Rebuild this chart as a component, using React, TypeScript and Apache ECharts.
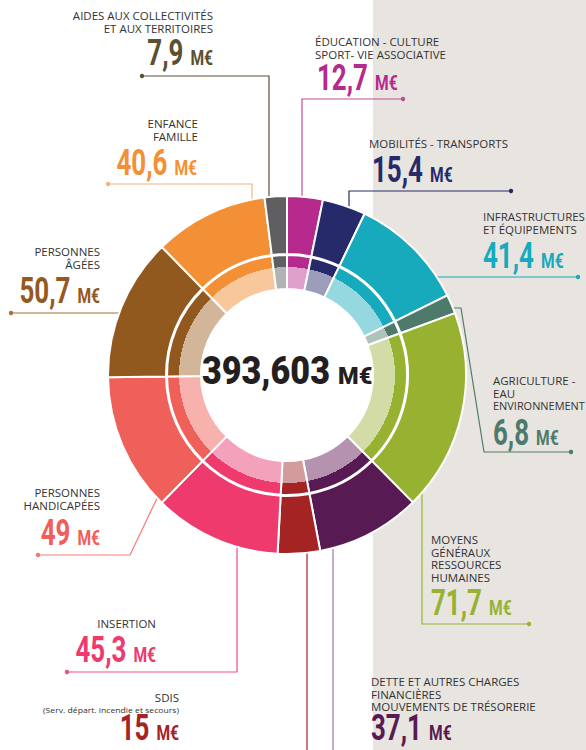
import React, { useEffect, useRef } from 'react';
import * as echarts from 'echarts';

// ---------- DATA ----------
const categories = [
  'ÉDUCATION - CULTURE\nSPORT- VIE ASSOCIATIVE',
  'MOBILITÉS - TRANSPORTS',
  'INFRASTRUCTURES\nET ÉQUIPEMENTS',
  'AGRICULTURE -\nEAU\nENVIRONNEMENT',
  'MOYENS\nGÉNÉRAUX\nRESSOURCES\nHUMAINES',
  'DETTE ET AUTRES CHARGES\nFINANCIÈRES\nMOUVEMENTS DE TRÉSORERIE',
  'SDIS',
  'INSERTION',
  'PERSONNES\nHANDICAPÉES',
  'PERSONNES\nÂGÉES',
  'ENFANCE\nFAMILLE',
  'AIDES AUX COLLECTIVITÉS\nET AUX TERRITOIRES',
];
const values = [12.7, 15.4, 41.4, 6.8, 71.7, 37.1, 15, 45.3, 49, 50.7, 40.6, 7.9];
const subNotes = ['', '', '', '', '', '', '(Serv. départ. incendie et secours)', '', '', '', '', ''];
const unitLabel = 'M€';
const totalLabel = '393,603';

// ---------- STYLES ----------
const colors = ['#b62a8e', '#262a6b', '#17aabd', '#4e7a6c', '#97b230', '#581a53', '#a42323', '#ee3a6d', '#f0605b', '#92591f', '#f38f34', '#5f5f62'];
const lightColors = ['#dfa0cc', '#9c9cbb', '#95d8e0', '#aec3bc', '#d3dca6', '#b593ae', '#d39c9c', '#f4a2bb', '#f8b2ae', '#d3b599', '#f9c79c', '#b3b3b6'];
const textColors = ['#b62a8e', '#262a6b', '#17a9bd', '#4e7a6b', '#97b230', '#581a53', '#a52325', '#ee3a6d', '#f05f5a', '#93591f', '#f48f33', '#5b5132'];
const lineColors = ['#c14b9b', '#262a6b', '#17a9bd', '#4e7a6b', '#97b230', '#9b7a9b', '#a52325', '#ef4f7d', '#f37a74', '#a86f37', '#f7b27c', '#5b5132'];

// ---------- LAYOUT (annotation positions) ----------
type Lay = { side: 'L' | 'R'; x: number; catY: number; vx: number; base: number; pts: number[][]; dot: boolean };
const layout: Lay[] = [
  { side: 'R', x: 315, catY: 42, vx: 317, base: 90, pts: [[403, 99], [302, 99], [302, 205]], dot: true },
  { side: 'R', x: 369, catY: 144, vx: 372, base: 182, pts: [[511, 191], [349, 191], [349, 210]], dot: true },
  { side: 'R', x: 483, catY: 217, vx: 483, base: 268, pts: [[578, 277], [430, 277]], dot: true },
  { side: 'R', x: 493, catY: 381, vx: 493, base: 445, pts: [[571, 452], [484, 452], [461, 308], [448, 308]], dot: true },
  { side: 'R', x: 431, catY: 540, vx: 431, base: 615, pts: [[529, 624], [422, 624], [422, 485]], dot: true },
  { side: 'R', x: 371, catY: 682, vx: 371, base: 740, pts: [[333, 760], [333, 540]], dot: false },
  { side: 'L', x: 179, catY: 698, vx: 179, base: 740, pts: [[307, 760], [307, 545]], dot: false },
  { side: 'L', x: 156, catY: 624, vx: 156, base: 662, pts: [[67, 672], [237, 672], [237, 540]], dot: true },
  { side: 'L', x: 100, catY: 493, vx: 100, base: 545, pts: [[38, 555], [130, 555], [160, 492]], dot: true },
  { side: 'L', x: 100, catY: 252, vx: 100, base: 303, pts: [[11, 313], [125, 313]], dot: true },
  { side: 'L', x: 198, catY: 124, vx: 197, base: 175, pts: [[108, 184], [252, 184], [252, 205]], dot: true },
  { side: 'L', x: 213, catY: 16, vx: 213, base: 65, pts: [[142, 76], [269, 76], [269, 205]], dot: true },
];

const CX = 287;
const CY = 375;
const R_OUT = 179;
const R_MID = 121;
const R_LIGHT = 108;
const R_IN = 86;
const PAGE_W = 586;

const CAT_FONT = 'Open Sans';
const CAT_SIZE = 10;
const CAT_SX = 1.15;
const NUM_FONT = 'Roboto';
const D_SIZE = 36.5;
const D_SX = 0.71;
const U_SIZE = 19.5;
const U_SX = 0.8;

let ctx: CanvasRenderingContext2D | null = null;
function measure(text: string, font: string): number {
  if (!ctx) ctx = document.createElement('canvas').getContext('2d');
  if (!ctx) return text.length * 10;
  ctx.font = font;
  return ctx.measureText(text).width;
}

function fmt(v: number): string {
  return String(v).replace('.', ',');
}

function buildGraphics() {
  const els: any[] = [];
  els.push({ type: 'rect', z: -10, shape: { x: 373, y: 0, width: 213, height: 750 }, style: { fill: '#e8e5e1' }, silent: true });
  values.forEach((v, i) => {
    const L = layout[i];
    els.push({
      type: 'polyline', z: -3, silent: true,
      shape: { points: L.pts },
      style: { stroke: lineColors[i], lineWidth: 1.2, fill: null },
    });
    if (L.dot) {
      els.push({ type: 'circle', z: -2, silent: true, shape: { cx: L.pts[0][0], cy: L.pts[0][1], r: 2.2 }, style: { fill: lineColors[i] } });
    }
    const align = L.side === 'L' ? 'right' : 'left';
    const lines = categories[i].split('\n');
    lines.forEach((t, k) => {
      let sx = CAT_SX;
      if (L.side === 'R') {
        const w = measure(t, `500 ${CAT_SIZE}px "${CAT_FONT}"`);
        const room = PAGE_W - 1 - L.x;
        if (w * sx > room) sx = room / w;
      }
      els.push({
        type: 'text', z: 5, silent: true, x: L.x, y: L.catY + k * 12.5, scaleX: sx,
        style: { text: t, fontFamily: CAT_FONT, fontSize: CAT_SIZE, fontWeight: 500, fill: '#333333', align, verticalAlign: 'middle' },
      });
    });
    if (subNotes[i]) {
      els.push({
        type: 'text', z: 5, silent: true, x: L.x, y: L.catY + lines.length * 12.5 - 0.5, scaleX: 1.08,
        style: { text: subNotes[i], fontFamily: CAT_FONT, fontSize: 8, fill: '#333333', align, verticalAlign: 'middle' },
      });
    }
    const dText = fmt(v);
    const dW = measure(dText, `bold ${D_SIZE}px ${NUM_FONT}`) * D_SX;
    const uW = measure(unitLabel, `bold ${U_SIZE}px ${NUM_FONT}`) * U_SX;
    const gap = 7;
    const dy = L.base - 0.34 * D_SIZE;
    const uy = L.base - 0.34 * U_SIZE;
    let dx: number;
    let ux: number;
    if (L.side === 'L') {
      ux = L.vx - uW;
      dx = ux - gap - dW;
    } else {
      dx = L.vx;
      ux = dx + dW + gap;
    }
    els.push({
      type: 'text', z: 5, silent: true, x: dx, y: dy, scaleX: D_SX,
      style: { text: dText, fontFamily: NUM_FONT, fontSize: D_SIZE, fontWeight: 'bold', fill: textColors[i], align: 'left', verticalAlign: 'middle' },
    });
    els.push({
      type: 'text', z: 5, silent: true, x: ux, y: uy, scaleX: U_SX,
      style: { text: unitLabel, fontFamily: NUM_FONT, fontSize: U_SIZE, fontWeight: 'bold', fill: textColors[i], align: 'left', verticalAlign: 'middle' },
    });
  });
  // center total
  const cD = 38, cDsx = 0.9, cU = 24, cUsx = 0.98, cGap = 10, cBase = 384;
  const cdW = measure(totalLabel, `bold ${cD}px ${NUM_FONT}`) * cDsx;
  const cuW = measure(unitLabel, `bold ${cU}px ${NUM_FONT}`) * cUsx;
  const start = CX - (cdW + cGap + cuW) / 2;
  els.push({
    type: 'text', z: 5, silent: true, x: start, y: cBase - 0.34 * cD, scaleX: cDsx,
    style: { text: totalLabel, fontFamily: NUM_FONT, fontSize: cD, fontWeight: 900, fill: '#231f20', align: 'left', verticalAlign: 'middle' },
  });
  els.push({
    type: 'text', z: 5, silent: true, x: start + cdW + cGap, y: cBase - 0.34 * cU, scaleX: cUsx,
    style: { text: unitLabel, fontFamily: NUM_FONT, fontSize: cU, fontWeight: 900, fill: '#231f20', align: 'left', verticalAlign: 'middle' },
  });
  return els;
}

export default function App() {
  const ref = useRef<HTMLDivElement>(null);
  useEffect(() => {
    if (!ref.current) return;
    const chart = echarts.init(ref.current, undefined, { renderer: 'svg' });
    const stop = R_LIGHT / R_MID;
    const innerData = values.map((v, i) => ({
      value: v,
      name: categories[i],
      itemStyle: {
        color: {
          type: 'radial', x: CX, y: CY, r: R_MID, global: true,
          colorStops: [
            { offset: 0, color: lightColors[i] },
            { offset: stop, color: lightColors[i] },
            { offset: stop, color: colors[i] },
            { offset: 1, color: colors[i] },
          ],
        },
      },
    }));
    const outerData = values.map((v, i) => ({ value: v, name: categories[i], itemStyle: { color: colors[i] } }));
    chart.setOption({
      animation: false,
      backgroundColor: '#ffffff',
      graphic: { elements: [
        ...buildGraphics(),
        { type: 'circle', z: -1, silent: true, shape: { cx: CX, cy: CY, r: R_OUT }, style: { fill: '#ffffff' } },
      ] },
      series: [
        {
          type: 'pie', center: [CX, CY], radius: [R_MID, R_OUT], startAngle: 90, clockwise: true,
          silent: true, label: { show: false }, labelLine: { show: false },
          itemStyle: { borderColor: '#ffffff', borderWidth: 2 },
          data: outerData,
        },
        {
          type: 'pie', center: [CX, CY], radius: [R_IN, R_MID - 1], startAngle: 90, clockwise: true,
          silent: true, label: { show: false }, labelLine: { show: false },
          itemStyle: { borderColor: '#ffffff', borderWidth: 2 },
          data: innerData,
        },
      ],
    });
    return () => chart.dispose();
  }, []);
  return <div ref={ref} style={{ position: 'fixed', left: 0, top: 0, width: 586, height: 750 }} />;
}
